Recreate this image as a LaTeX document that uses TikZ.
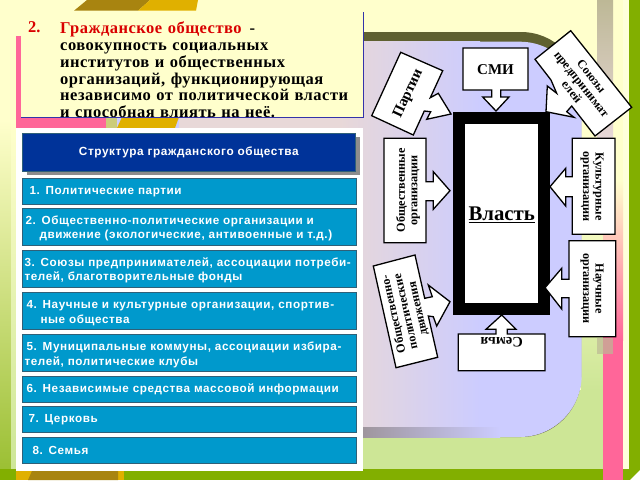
\documentclass[tikz,border=0pt]{standalone}
\usepackage{fontspec}
\setmainfont{Liberation Serif}
\newfontfamily\itemfont[LetterSpace=5]{Liberation Sans}
\newfontfamily\headfont[LetterSpace=3]{Liberation Serif}
\usetikzlibrary{positioning}
\definecolor{pale yellow}{HTML}{FFFFCC}
\definecolor{nice green}{HTML}{82AF00}
\definecolor{light green}{HTML}{CDE696}
\definecolor{nice pink}{HTML}{FF6699}
\definecolor{nice gold}{HTML}{E0B000}
\definecolor{dark gold}{HTML}{A88410}
\definecolor{nice lavender}{HTML}{CCCCFF}
\definecolor{panel pink}{HTML}{E8D8D8}
\definecolor{item blue}{HTML}{0099CC}
\definecolor{item edge}{HTML}{2F6078}
\definecolor{head blue}{HTML}{003399}
\definecolor{line blue}{HTML}{3333AA}
\definecolor{dark olive}{HTML}{5F6030}
\definecolor{stripe tan}{HTML}{BDB896}
\tikzset{
    % Boxes
    item box/.style={draw=item edge,line width=1pt,fill=item blue,anchor=north west,
        minimum width=334pt,minimum height=#1,text width=330pt,inner xsep=2pt,inner ysep=0pt,
        align=left,text=white,font=\itemfont\fontsize{11.7}{14.4}\selectfont\bfseries},
    two lines/.style={execute at begin node={\rule{0pt}{12pt}}},
    callout/.style={draw=black,line width=1.3pt,fill=white,line join=miter},
    callout text/.style={align=center,font=\fontsize{#1}{12.5}\selectfont\bfseries,inner sep=0pt},
    callout text/.default=12.2,
}
\begin{document}
\begin{tikzpicture}[x=1pt,y=-1pt]
    \useasboundingbox (0,0) rectangle (640,480);
    % Background
    \fill[pale yellow] (0,0) rectangle (640,480);
    \shade[top color=pale yellow,bottom color=light green] (581,190) rectangle (630,390);
    \fill[light green] (16,390) rectangle (630,470);
    \shade[top color=pale yellow,bottom color=nice green!80!white] (0,120) rectangle (11,471);
    \shade[top color=pale yellow,bottom color=light green] (11,120) rectangle (16,471);
    \shade[top color=stripe tan,bottom color=panel pink] (597,0) rectangle (613,140);
    \fill[pale yellow!70!white] (623,0) rectangle (630,470);
    \fill[nice green] (629,0) rectangle (640,480);
    \fill[nice green] (0,469) rectangle (640,480);
    \fill[white] (630,480) -- (640,470) -- (640,480) -- cycle;
    \shade[top color=pale yellow,bottom color=nice pink] (603,180) rectangle (623,340);
    \fill[nice pink] (603,340) rectangle (623,480);
    \fill[stripe tan,opacity=.7] (597,338) rectangle (613,354);
    \fill[dark gold] (74,10.7) -- (87,0) -- (150,0) -- (138,10.7) -- cycle;
    \fill[nice gold] (138,10.7) -- (150,0) -- (198,0) -- (196,10.7) -- cycle;
    \fill[nice gold] (16,471) rectangle (124,480);
    \fill[dark gold] (28,480) -- (32,471) -- (118,471) -- (118,480) -- cycle;
    % Lavender panel
    \fill[dark olive,rounded corners=60pt] (100,32) -- (581,32) -- (581,437) -- (100,437) -- cycle;
    \fill[nice lavender,rounded corners=62pt] (100,41.7) -- (581.7,41.7) -- (581.7,437) -- (100,437) -- cycle;
    \shade[left color=panel pink,right color=nice lavender] (340,41.7) rectangle (480,427);
    \fill[panel pink] (179,41.7) rectangle (340,427);
    \shade[left color=black!35!panel pink,right color=nice lavender] (340,427) rectangle (500,437);
    % Left panel
    \fill[nice pink] (16,36) rectangle (21,128);
    \fill[nice pink] (16,117) rectangle (106,128);
    \fill[pale yellow!60!olive] (106,117) rectangle (117,128);
    \fill[nice gold] (117,128) -- (122,117) -- (179,117) -- (175,128) -- cycle;
    \fill[pale yellow] (21,12) rectangle (363,117);
    \node[anchor=north west,inner sep=0pt,text=red!85!black,font=\fontsize{16.5}{16}\selectfont\bfseries] (number) at (28,21.5) {2.};
    \node[anchor=north west,inner sep=0pt,text width=300pt,align=left,font=\headfont\fontsize{16.5}{16.85}\selectfont\bfseries] (definition) at (60,21.5)
        {\textcolor{red!85!black}{Гражданское общество}\hspace{8pt}-\\
        совокупность социальных\\
        институтов и общественных\\
        организаций, функционирующая\\
        независимо от политической власти\\
        и способная влиять на неё.};
    \draw[line blue,line width=.8pt] (21,117) -- (363,117) -- (363,12);
    \fill[white] (16,128) rectangle (363,471);
    \fill[black!45] (27,137) rectangle (360,175);
    \node[draw=item edge,line width=.6pt,fill=head blue,anchor=north west,minimum width=333pt,minimum height=38pt,inner sep=0pt,text=white,font=\itemfont\fontsize{11.8}{12}\selectfont\bfseries] (head) at (22,133) {Структура гражданского общества};
    \node[item box=26pt] (item 1) at (22,178) {\hspace*{5pt}1. Политические партии};
    \node[item box=37pt,two lines] (item 2) at (22,208) {\hspace*{1pt}2. Общественно-политические организации и\\\hspace*{15pt}движение (экологические, антивоенные и т.д.)};
    \node[item box=37pt,two lines] (item 3) at (22,250) {3. Союзы предпринимателей, ассоциации потреби-\\телей, благотворительные фонды};
    \node[item box=37pt,two lines] (item 4) at (22,292) {\hspace*{2pt}4. Научные и культурные организации, спортив-\\\hspace*{16pt}ные общества};
    \node[item box=37pt,two lines] (item 5) at (22,334.3) {\hspace*{2pt}5. Муниципальные коммуны, ассоциации избира-\\телей, политические клубы};
    \node[item box=26pt] (item 6) at (22,376.3) {\hspace*{2pt}6. Независимые средства массовой информации};
    \node[item box=26pt] (item 7) at (22,406.3) {\hspace*{4pt}7. Церковь};
    \node[item box=26pt] (item 8) at (22,437.3) {\hspace*{8pt}8. Семья};
    % Power frame
    \node[draw=black,line width=12.5pt,fill=white,minimum width=85pt,minimum height=191pt,inner sep=0pt,anchor=center] (frame) at (501.5,213.3) {};
    \node[font=\fontsize{20.8}{22}\selectfont\bfseries,inner sep=0pt] (power) at (501.7,215) {\underline{Власть}};
    % Callouts
    \draw[callout] (463,48) -- (528,48) -- (528,90) -- (500.7,90) -- (500.7,97) -- (509,97) -- (496,111) -- (482.7,97) -- (491.7,97) -- (491.7,90) -- (463,90) -- cycle;
    \node[callout text=15] (media) at (495.5,70) {СМИ};
    \draw[callout] (400.7,52.3) -- (442.7,70.7) -- (430.3,97.7) -- (438.3,93.3) -- (451,114) -- (426.7,119.3) -- (430.7,111.7) -- (424.3,111) -- (413.3,135) -- (371.7,115.7) -- cycle;
    \node[callout text=15,rotate=65] (parties) at (408.5,93.5) {Партии};
    \draw[callout] (570.7,30.7) -- (631.7,107.3) -- (595,136) -- (571.7,106) -- (566.7,111.7) -- (574,117.3) -- (546,111.7) -- (547.3,86) -- (556.7,93.3) -- (551,80) -- (535,59.3) -- cycle;
    \node[callout text=12.2,rotate=-51.5,text width=100pt] (unions) at (581.7,84) {Союзы\\предпринимат\\елей};
    \draw[callout] (384,138.3) -- (426,138.3) -- (426,181.7) -- (433.3,181.7) -- (433.3,171.7) -- (450,190.7) -- (433.3,209.3) -- (433.3,200.7) -- (426,200.7) -- (426,242.7) -- (384,242.7) -- cycle;
    \node[callout text,rotate=90] (public) at (408,190.5) {Общественные\\организации};
    \draw[callout] (615,138.3) -- (615,234.3) -- (572.3,234.3) -- (572.3,196.7) -- (565.7,196.7) -- (565.7,206) -- (550,186.7) -- (565.7,168.3) -- (565.7,176.7) -- (572.3,176.7) -- (572.3,138.3) -- cycle;
    \node[callout text,rotate=-90] (culture) at (592,186.5) {Культурные\\организации};
    \draw[callout] (615.7,240.7) -- (615.7,336.7) -- (569,336.7) -- (569,297.7) -- (561.7,297.7) -- (561.7,309) -- (545,287.7) -- (561.7,268.3) -- (561.7,279.3) -- (569,279.3) -- (569,240.7) -- cycle;
    \node[callout text,rotate=-90] (science) at (592,288.5) {Научные\\организации};
    \draw[callout] (458.3,334) -- (496,334) -- (496,329.3) -- (486,329.3) -- (501.7,315) -- (516,329.3) -- (507.3,329.3) -- (507.3,334) -- (545,334) -- (545,370.7) -- (458.3,370.7) -- cycle;
    \node[callout text=14.5,rotate=180] (family) at (501.7,342) {Семья};
    \draw[callout] (373.3,266) -- (415,255) -- (424.7,298.3) -- (432.3,296.7) -- (428.3,285) -- (450,301.7) -- (436.7,326) -- (433.3,316.7) -- (428.3,316) -- (437.7,357.3) -- (396,367.7) -- cycle;
    \node[callout text,rotate=102.6] (movement) at (406,311.5) {Общественно-\\политические\\движения};
\end{tikzpicture}
\end{document}
